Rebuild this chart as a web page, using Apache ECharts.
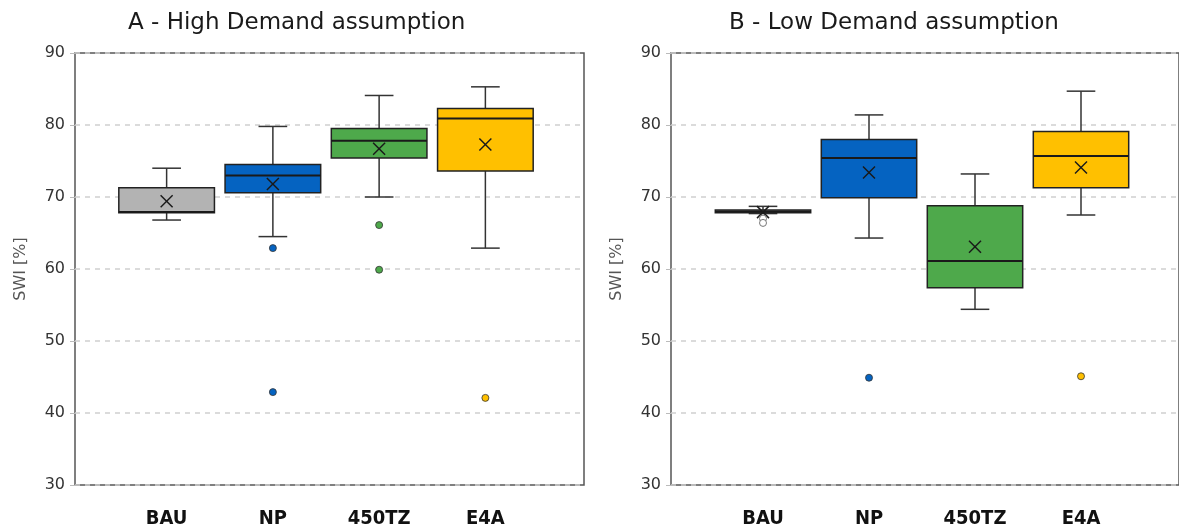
<!DOCTYPE html>
<html>
<head>
<meta charset="utf-8">
<script src="https://cdn.jsdelivr.net/npm/echarts@6/dist/echarts.min.js"></script>
<style>
  html, body { margin: 0; padding: 0; background: #fff; }
  #chart { width: 1179px; height: 531px; }
</style>
</head>
<body>
<div id="chart"></div>
<script>
// scenarios on the x axis
const categories = ['BAU', 'NP', '450TZ', 'E4A']

// [min, q1, median, q3, max] per scenario
const highBoxes = [
  [66.8, 67.8, 67.9, 71.3, 74.0],
  [64.5, 70.6, 73.0, 74.5, 79.8],
  [70.0, 75.4, 77.8, 79.5, 84.1],
  [62.9, 73.6, 80.9, 82.3, 85.3]
]
const highMeans = [69.4, 71.8, 76.7, 77.3]
const highOutliers = [[1, 62.9], [1, 42.9], [2, 66.1], [2, 59.9], [3, 42.1]]

const lowBoxes = [
  [67.7, 67.8, 68.0, 68.2, 68.7],
  [64.3, 69.9, 75.4, 78.0, 81.4],
  [54.4, 57.4, 61.1, 68.8, 73.2],
  [67.5, 71.3, 75.7, 79.1, 84.7]
]
const lowMeans = [67.9, 73.4, 63.1, 74.1]
const lowOutliers = [[0, 67.0], [0, 66.4], [1, 44.9], [3, 45.1]]

const colors = ['#b3b3b3', '#0563c1', '#4ea94b', '#ffc000']
const font = 'DejaVu Sans'

function renderBox(params, api) {
  const i = api.value(0)
  const band = api.size([1, 0])[0]
  const x = api.coord([i, api.value(3)])[0]
  const y = v => api.coord([i, v])[1]
  const boxW = band * 0.9
  const capW = band * 0.27
  const lo = y(api.value(1)), q1 = y(api.value(2)), med = y(api.value(3))
  const q3 = y(api.value(4)), hi = y(api.value(5)), mean = y(api.value(6))
  const line = { stroke: '#333', lineWidth: 1.5 }
  const seg = (x1, y1, x2, y2, style) => ({ type: 'line', shape: { x1, y1, x2, y2 }, style: style || line })
  return {
    type: 'group',
    children: [
      seg(x, q3, x, hi), seg(x - capW / 2, hi, x + capW / 2, hi),
      seg(x, q1, x, lo), seg(x - capW / 2, lo, x + capW / 2, lo),
      {
        type: 'rect',
        shape: { x: x - boxW / 2, y: q3, width: boxW, height: q1 - q3 },
        style: { fill: colors[i], stroke: '#222', lineWidth: 1.5 }
      },
      seg(x - boxW / 2, med, x + boxW / 2, med, { stroke: '#1a1a1a', lineWidth: 2 }),
      seg(x - 6, mean - 6, x + 6, mean + 6, { stroke: '#1a1a1a', lineWidth: 1.5 }),
      seg(x - 6, mean + 6, x + 6, mean - 6, { stroke: '#1a1a1a', lineWidth: 1.5 })
    ]
  }
}

function boxData(boxes, means) {
  return boxes.map((b, i) => [i, ...b, means[i]])
}

// BAU outliers in panel B are hollow
function outlierData(points, hollowBau) {
  return points.map(p => ({
    value: p,
    itemStyle: hollowBau && p[0] === 0
      ? { color: '#fff', borderColor: '#777', borderWidth: 1 }
      : { color: colors[p[0]], borderColor: '#333', borderWidth: 0.8 }
  }))
}

const frameY = {
  type: 'value', min: 30, max: 90, interval: 10,
  axisLine: { show: false },
  axisTick: { show: true, length: 5, lineStyle: { color: '#bbb' } },
  axisLabel: { color: '#333', fontSize: 16, fontFamily: font, margin: 10 },
  splitLine: { lineStyle: { color: '#cfcfcf', width: 1.5, type: [5, 5] } },
  name: 'SWI [%]', nameLocation: 'middle', nameGap: 46,
  nameTextStyle: { color: '#555', fontSize: 16, fontFamily: font }
}
const bandX = {
  type: 'category', data: categories,
  axisLine: { show: false }, axisTick: { show: false },
  axisLabel: { color: '#111', fontSize: 20, fontWeight: 'bold', fontFamily: "'DejaVu Sans Condensed', 'DejaVu Sans'", margin: 24 }
}
const hiddenY = { type: 'value', min: 30, max: 90, show: false }
const hiddenX = { type: 'value', min: 0, max: 1, show: false }
const titleStyle = { fontFamily: font, fontSize: 23, fontWeight: 'normal', color: '#1a1a1a' }

const chart = echarts.init(document.getElementById('chart'))
chart.setOption({
  animation: false,
  title: [
    { text: 'A - High Demand assumption', left: 123, top: 7, textStyle: titleStyle },
    { text: 'B - Low Demand assumption', left: 724, top: 7, textStyle: titleStyle }
  ],
  grid: [
    { left: 75, top: 53, width: 509, height: 432, show: true, borderColor: '#555', borderWidth: 1.5 },
    { left: 113.5, top: 53, width: 425, height: 432 },
    { left: 671, top: 53, width: 540, height: 432, show: true, borderColor: '#555', borderWidth: 1.5 },
    { left: 710, top: 53, width: 424, height: 432 }
  ],
  xAxis: [
    { ...hiddenX, gridIndex: 0 },
    { ...bandX, gridIndex: 1 },
    { ...hiddenX, gridIndex: 2 },
    { ...bandX, gridIndex: 3 }
  ],
  yAxis: [
    { ...frameY, gridIndex: 0 },
    { ...hiddenY, gridIndex: 1 },
    { ...frameY, gridIndex: 2 },
    { ...hiddenY, gridIndex: 3 }
  ],
  series: [
    {
      type: 'custom', xAxisIndex: 1, yAxisIndex: 1, z: 2,
      renderItem: renderBox, encode: { x: 0, y: [1, 2, 3, 4, 5, 6] },
      data: boxData(highBoxes, highMeans)
    },
    {
      type: 'scatter', xAxisIndex: 1, yAxisIndex: 1, z: 3, symbolSize: 7,
      itemStyle: { opacity: 1 },
      data: outlierData(highOutliers, false)
    },
    {
      type: 'custom', xAxisIndex: 3, yAxisIndex: 3, z: 2,
      renderItem: renderBox, encode: { x: 0, y: [1, 2, 3, 4, 5, 6] },
      data: boxData(lowBoxes, lowMeans)
    },
    {
      type: 'scatter', xAxisIndex: 3, yAxisIndex: 3, z: 3, symbolSize: 7,
      itemStyle: { opacity: 1 },
      data: outlierData(lowOutliers, true)
    }
  ]
})
</script>
</body>
</html>
